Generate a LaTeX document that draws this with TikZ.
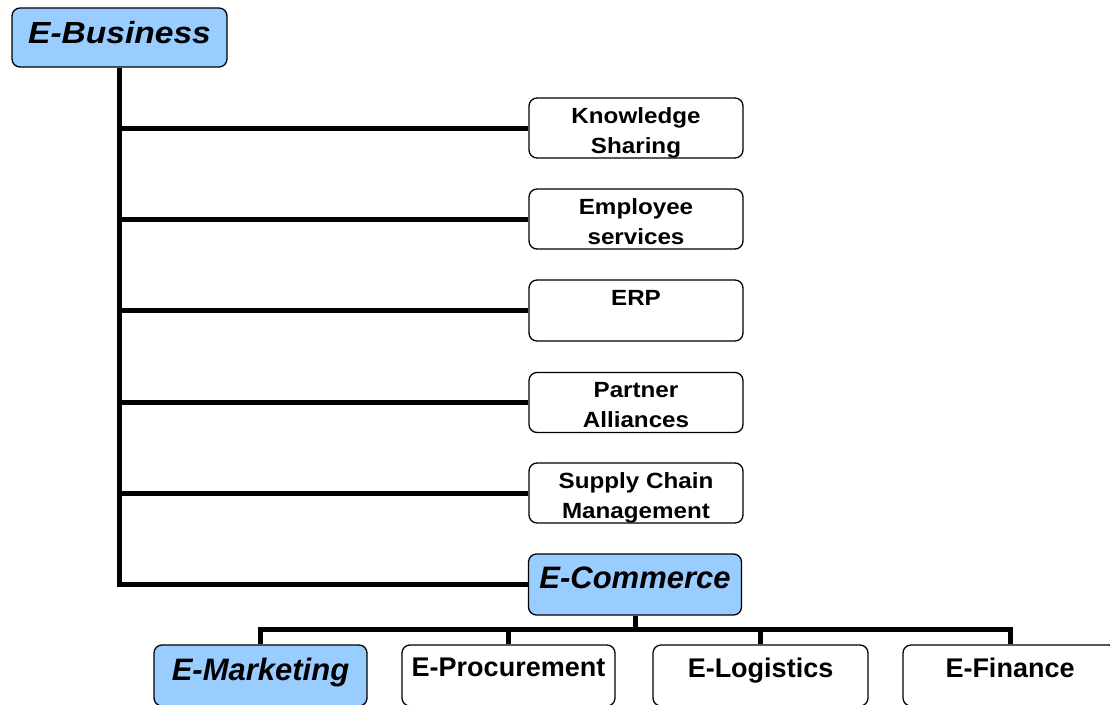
\documentclass[tikz,border=0pt]{standalone}
\usepackage{fontspec}
\setmainfont{Liberation Sans}
\newfontfamily\widesans[FakeStretch=1.1]{Liberation Sans}
\definecolor{boxblue}{RGB}{153,204,255}
\tikzset{
  every picture/.style={
    x=1pt, y=-1pt
  },
  box/.style={
    draw, rounded corners=8pt, line width=1.3pt,
    minimum width=214pt, minimum height=60pt,
    inner sep=0pt
  },
  hub/.style={
    box, fill=boxblue
  },
  link/.style={
    line width=5pt
  },
  leaftext/.style={
    inner sep=0pt, anchor=north, align=center, yshift=-10.5pt,
    font=\widesans\bfseries\fontsize{22}{29.5}\selectfont
  },
  rowtext/.style={
    leaftext, yshift=-2.5pt,
    font=\bfseries\fontsize{27}{32}\selectfont
  },
  hubtext/.style={
    leaftext, yshift=-2.5pt,
    font=\bfseries\itshape\fontsize{31}{36}\selectfont
  }
}

\begin{document}
\begin{tikzpicture}
    \useasboundingbox (0,0) rectangle (1110,704);
    % top of the tree
    \node [hub, minimum width=215pt, minimum height=59pt,
      label={[hubtext, yshift=-1pt, font=\widesans\bfseries\itshape\fontsize{30.5}{34}\selectfont]north:E-Business}]
      (eb) at (119.5,37.5) {};
    % the five branches on the right
    \node [box, label={[leaftext]north:{Knowledge\\Sharing}}] (ks) at (636,128) {};
    \node [box, label={[leaftext]north:{Employee\\services}}] (es) at (636,219) {};
    \node [box, minimum height=61pt, label={[leaftext]north:ERP}] (erp) at (636,310.5) {};
    \node [box, label={[leaftext]north:{Partner\\Alliances}}] (pa) at (636,402.5) {};
    \node [box, label={[leaftext]north:{Supply Chain\\Management}}] (scm) at (636,493) {};
    \node [hub, minimum width=213pt, minimum height=61pt,
      label={[hubtext]north:E-Commerce}] (ec) at (635,584.5) {};
    % bottom row
    \node [hub, minimum width=213pt, minimum height=61pt,
      label={[hubtext]north:E-Marketing}] (em) at (260.5,675.5) {};
    \node [box, minimum width=213pt, minimum height=61pt,
      label={[rowtext]north:E-Procurement}] (ep) at (508.5,675.5) {};
    \node [box, minimum width=215pt, minimum height=61pt,
      label={[rowtext]north:E-Logistics}] (el) at (760.5,675.5) {};
    \node [box, minimum width=214pt, minimum height=61pt,
      label={[rowtext]north:E-Finance}] (ef) at (1010,675.5) {};
    % connectors
    \draw [link] (eb.south) |- (ec.west);
    \foreach \n in {ks,es,erp,pa,scm}
      \draw [link] (eb.south |- \n.west) -- (\n.west);
    \coordinate (bar) at ([yshift=-14pt]ec.south);
    \draw [link] (ec.south) -- (bar);
    \draw [link] (em.north) |- (bar -| ef.north) -- (ef.north);
    \draw [link] (ep.north) -- (ep.north |- bar);
    \draw [link] (el.north) -- (el.north |- bar);
  \end{tikzpicture}
\end{document}
